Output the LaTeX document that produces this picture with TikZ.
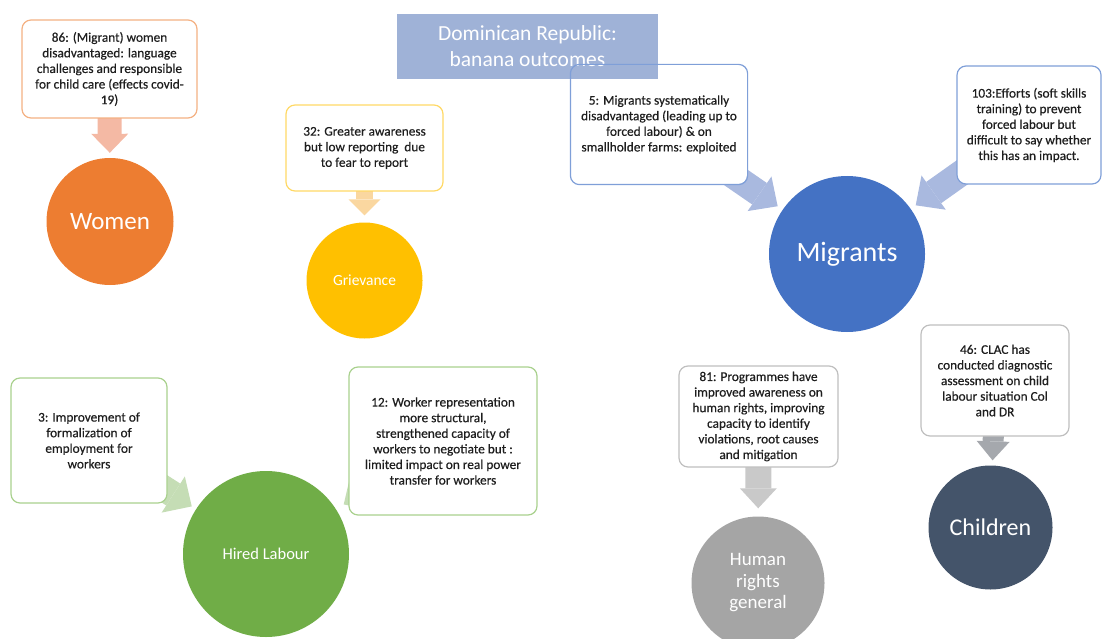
\documentclass[tikz,border=0pt]{standalone}
\usepackage{fontspec}
\setmainfont{Carlito}
\newfontfamily\notefont{Carlito}[FakeBold=0.4]
\usepackage{tikz}
\usetikzlibrary{arrows.meta}

\definecolor{titleblue}{HTML}{9FB2D7}
\definecolor{notetext}{HTML}{1E1E1E}
\definecolor{womenorange}{HTML}{ED7D31}
\definecolor{womenline}{HTML}{F4B183}
\definecolor{womenarr}{HTML}{F4B9A4}
\definecolor{grievyellow}{HTML}{FFC000}
\definecolor{grievline}{HTML}{FFD966}
\definecolor{grievarr}{HTML}{FAD7A0}
\definecolor{migblue}{HTML}{4472C4}
\definecolor{migline}{HTML}{7F9FD8}
\definecolor{migarr}{HTML}{A9B9DF}
\definecolor{hiredgreen}{HTML}{70AD47}
\definecolor{hiredline}{HTML}{A9D18E}
\definecolor{hiredarr}{HTML}{C5DDB5}
\definecolor{childnavy}{HTML}{44546A}
\definecolor{childarr}{HTML}{A5A8AD}
\definecolor{humangray}{HTML}{A5A5A5}
\definecolor{humanarr}{HTML}{C9C9C9}
\definecolor{grayline}{HTML}{BFBFBF}

\tikzset{
  notebox/.style={draw, rounded corners=9pt, line width=1.2pt, fill=white,
    align=center, text=notetext, inner sep=2pt,
    font=\notefont\fontsize{13.3}{15.6}\selectfont},
  outcome/.style={circle, inner sep=0pt, text=white, align=center},
}

\begin{document}
\begin{tikzpicture}[x=1pt,y=-1pt]
  \useasboundingbox (0,0) rectangle (1102,639);
  \clip (0,0) rectangle (1102,639);

  % circles
  \node [outcome, fill=womenorange, minimum size=127pt, font=\fontsize{25}{30}\selectfont] (women) at (110,221.5) {Women};
  \node [outcome, fill=grievyellow, minimum size=116pt, font=\fontsize{15.5}{19}\selectfont] (grievance) at (364.5,280.5) {Grievance};
  \node [outcome, fill=migblue, minimum size=156pt, font=\fontsize{28}{34}\selectfont] (migrants) at (847,254) {Migrants};
  \node [outcome, fill=hiredgreen, minimum size=166pt, font=\fontsize{16.5}{20}\selectfont] (hired) at (266,554) {Hired Labour};
  \node [outcome, fill=childnavy, minimum size=124pt, font=\fontsize{24}{29}\selectfont] (children) at (990.5,527.5) {Children};
  \node [outcome, fill=humangray, minimum size=133pt, font=\fontsize{19}{21.5}\selectfont] (human) at (758,583) {Human\\rights\\general};

  % box centres
  \path (109.5,69) coordinate (womenpos)
        (364.5,148) coordinate (grievpos)
        (659,124.5) coordinate (migpos)
        (1029,125) coordinate (effortpos)
        (995,380.5) coordinate (clacpos)
        (758.5,416.5) coordinate (progpos)
        (89,440.5) coordinate (formpos)
        (443,441) coordinate (reprpos);

  % arrows
  \draw [womenarr, line width=24pt, -{Triangle[length=19pt,width=37pt,line width=0pt]}, shorten >=5pt] (womenpos) -- (women);
  \draw [grievarr, line width=17pt, -{Triangle[length=16pt,width=32pt,line width=0pt]}, shorten >=7pt] (grievpos) -- (grievance);
  \draw [migarr, line width=26pt, -{Triangle[length=22pt,width=42pt,line width=0pt]}, shorten >=6pt] (migpos) -- (migrants);
  \draw [migarr, line width=26pt, -{Triangle[length=22pt,width=42pt,line width=0pt]}, shorten >=6pt] (effortpos) -- (migrants);
  \draw [hiredarr, line width=26pt, -{Triangle[length=22pt,width=43pt,line width=0pt]}, shorten >=5pt] (formpos) -- (hired);
  \draw [hiredarr, line width=26pt, -{Triangle[length=22pt,width=43pt,line width=0pt]}, shorten >=9pt] (reprpos) -- (hired);
  \draw [childarr, line width=21pt, -{Triangle[length=19pt,width=33pt,line width=0pt]}, shorten >=5pt] (clacpos) -- (children);
  \draw [humanarr, line width=26pt, -{Triangle[length=20pt,width=37pt,line width=0pt]}, shorten >=8pt] (progpos) -- (human);

  % boxes
  \node [notebox, draw=womenline, minimum width=175pt, minimum height=98pt] (womenbox) at (womenpos)
    {86: (Migrant) women\\disadvantaged: language\\challenges and responsible\\for child care (effects covid-\\19)};
  \node [notebox, draw=grievline, minimum width=157pt, minimum height=86pt] (grievbox) at (grievpos)
    {32: Greater awareness\\but low reporting\ \ due\\to fear to report};
  \node [notebox, draw=none, minimum width=176pt, minimum height=119pt] (migbox) at (migpos)
    {5: Migrants systematically\\disadvantaged (leading up to\\forced labour) \& on\\smallholder farms: exploited};
  \node [notebox, draw=migline, minimum width=144pt, minimum height=118pt] (effortbox) at (effortpos)
    {103:Efforts (soft skills\\training) to prevent\\forced labour but\\difficult to say whether\\this has an impact.};
  \node [notebox, draw=grayline, minimum width=148pt, minimum height=111pt] (clacbox) at (clacpos)
    {46: CLAC has\\conducted diagnostic\\assessment on child\\labour situation Col\\and DR};
  \node [notebox, draw=grayline, minimum width=159pt, minimum height=101pt] (progbox) at (progpos)
    {81: Programmes have\\improved awareness on\\human rights, improving\\capacity to identify\\violations, root causes\\and mitigation};
  \node [notebox, draw=hiredline, minimum width=156pt, minimum height=125pt] (formbox) at (formpos)
    {3: Improvement of\\formalization of\\employment for\\workers};
  \node [notebox, draw=hiredline, minimum width=188pt, minimum height=148pt] (reprbox) at (reprpos)
    {12: Worker representation\\more structural,\\strengthened capacity of\\workers to negotiate but :\\limited impact on real power\\transfer for workers};

  % title over box 5, then its outline on top
  \node [fill=titleblue, text=white, align=center, minimum width=261pt, minimum height=65pt,
         font=\fontsize{21.5}{26}\selectfont] (title) at (527.5,46.5) {Dominican Republic:\\banana outcomes};
  \draw [migline, line width=1.2pt, rounded corners=9pt] (migbox.south west) rectangle (migbox.north east);
\end{tikzpicture}
\end{document}
